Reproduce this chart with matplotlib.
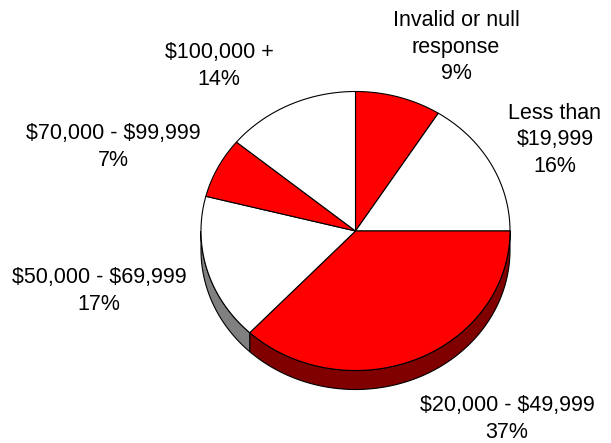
import numpy as np
import matplotlib
matplotlib.use("Agg")
import matplotlib.pyplot as plt
from matplotlib.patches import Polygon

plt.rcParams['font.family'] = ['Liberation Sans', 'DejaVu Sans']
plt.rcParams['text.parse_math'] = False

# income brackets, clockwise from 12 o'clock
labels = ['Invalid or null\nresponse', 'Less than\n$19,999', '$20,000 - $49,999',
          '$50,000 - $69,999', '$70,000 - $99,999', '$100,000 +']
shares = [9, 16, 37, 17, 7, 14]
top_colors = ['#ff0000', '#ffffff', '#ff0000', '#ffffff', '#ff0000', '#ffffff']
side_colors = ['#800000', '#808080', '#800000', '#808080', '#800000', '#808080']

# label centres (pixels)
label_pos = [(456, 47), (555, 140), (507, 419), (99, 291), (113, 147), (219, 66)]

W, H = 611, 443
cx, cy = 355.5, 231
rx, ry = 154.5, 139.5
depth = 19

fig = plt.figure(figsize=(W / 100, H / 100), dpi=100)
ax = fig.add_axes([0, 0, 1, 1])
ax.set_xlim(0, W)
ax.set_ylim(H, 0)
ax.axis('off')


def arc(a0, a1, dy=0, n=200):
    t = np.radians(np.linspace(a0, a1, n))
    return np.column_stack([cx + rx * np.cos(t), cy - ry * np.sin(t) + dy])


total = float(sum(shares))
bounds = []
start = 90.0
for s in shares:
    end = start - 360.0 * s / total
    bounds.append((start, end))
    start = end

# side wall (only the front half shows)
for (a0, a1), sc in zip(bounds, side_colors):
    hi, lo = min(a0, 0.0), max(a1, -180.0)
    if hi <= lo:
        continue
    upper = arc(hi, lo)
    lower = arc(lo, hi, dy=depth)
    ax.add_patch(Polygon(np.vstack([upper, lower]), closed=True,
                         facecolor=sc, edgecolor='black', linewidth=0.8))

# top face
for (a0, a1), fc in zip(bounds, top_colors):
    pts = np.vstack([[cx, cy], arc(a0, a1)])
    ax.add_patch(Polygon(pts, closed=True, facecolor=fc,
                         edgecolor='black', linewidth=0.8))

for lab, s, (x, y) in zip(labels, shares, label_pos):
    ax.text(x, y, f"{lab}\n{s}%", ha='center', va='center', fontsize=15.5,
            linespacing=1.35, color='black')

fig.savefig('out.png', dpi=100)
